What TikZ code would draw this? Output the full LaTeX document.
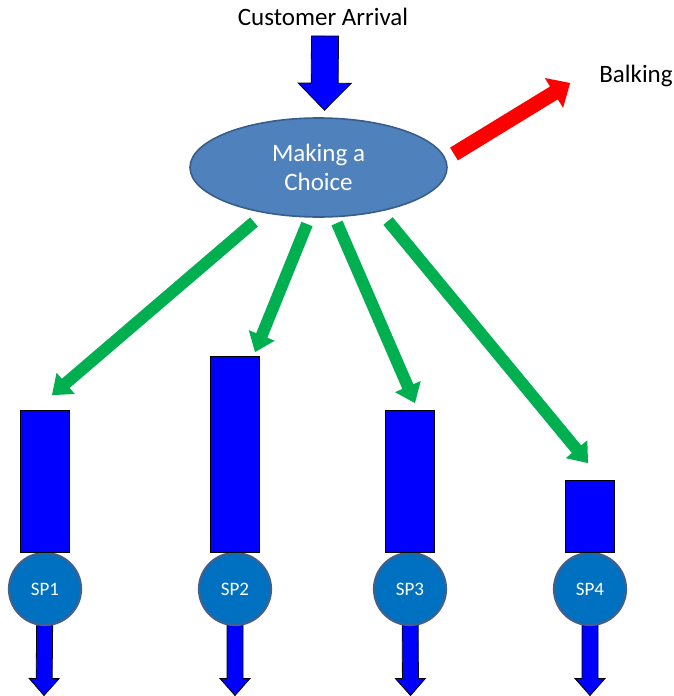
\documentclass[tikz,border=0pt]{standalone}
\usepackage{fontspec}
\setmainfont{Carlito}
\usetikzlibrary{shapes.geometric,positioning,calc,backgrounds}
\definecolor{arrblue}{RGB}{0,0,255}
\definecolor{choicefill}{RGB}{79,129,189}
\definecolor{choiceline}{RGB}{56,93,138}
\definecolor{spfill}{RGB}{0,112,192}
\definecolor{spline}{RGB}{65,96,139}
\definecolor{pathgreen}{RGB}{0,176,80}

% block arrow: style, from, to, half shaft, half head, head length
\newcommand{\blockarrow}[6]{%
  \coordinate (hb) at ($(#3)!#6!(#2)$);
  \path[#1] ($(#2)!#4!90:(#3)$) -- ($(hb)!#4!-90:(#2)$) -- ($(hb)!#5!-90:(#2)$) -- (#3)
    -- ($(hb)!#5!90:(#2)$) -- ($(hb)!#4!90:(#2)$) -- ($(#2)!#4!-90:(#3)$) -- cycle;
}

\begin{document}
\begin{tikzpicture}[
  x=1pt,y=-1pt,
  bigtext/.style={font=\fontsize{25}{29}\selectfont,align=center,inner sep=0pt},
  choicebox/.style={ellipse,draw=choiceline,fill=choicefill,line width=1.6pt,minimum width=257pt,minimum height=99pt,inner sep=0pt,text=white,bigtext},
  server/.style={circle,draw=spline,fill=spfill,line width=2.2pt,minimum size=72pt,inner sep=0pt,text=white,font=\fontsize{19}{22}\selectfont},
  queue/.style={draw=black,fill=arrblue,line width=0.8pt,minimum width=49pt,inner sep=0pt},
  bluearr/.style={draw=black,fill=arrblue,line width=0.8pt},
  greenarr/.style={fill=pathgreen},
  redarr/.style={fill=red},
]
\useasboundingbox (0,0) rectangle (674,696);

\node[bigtext] (arrival) at (323,17) {Customer Arrival};
\node[choicebox] (choice) at (318.5,167.5) {Making a\\Choice};
\node[bigtext] (balk) at (636,76) {Balking};

\node[server] (sp1) at (45,589) {SP1};
\node[server] (sp2) at (235,589) {SP2};
\node[server] (sp3) at (410,589) {SP3};
\node[server] (sp4) at (590,589) {SP4};

\node[queue,minimum height=142pt,above=-1pt of sp1] (q1) {};
\node[queue,minimum height=196pt,above=-1pt of sp2] (q2) {};
\node[queue,minimum height=142pt,above=-1pt of sp3] (q3) {};
\node[queue,minimum height=72pt,above=-1pt of sp4] (q4) {};

% arrow ends
\coordinate (intop) at (325,36);
\coordinate (intip) at ($(choice.north)+(6,-7)$);
\coordinate (balkfrom) at (454,154);
\coordinate (balktip) at ($(balk.west)+(-29,7)$);
\coordinate (g1from) at (254,222);
\coordinate (g2from) at (307,224);
\coordinate (g3from) at (337,223);
\coordinate (g4from) at (388,221);
\coordinate (g1tip) at ($(q1.north)+(7,-15)$);
\coordinate (g2tip) at ($(q2.north)+(20,-4)$);
\coordinate (g3tip) at ($(q3.north)+(5,-7)$);
\coordinate (g4tip) at ($(q4.north)+(-2,-17)$);
\foreach \i/\x in {1/44,2/235,3/410.5,4/590}
  \coordinate (out\i) at (\x,695.5);

\blockarrow{bluearr}{intop}{intip}{13.5pt}{26.5pt}{27pt}
\blockarrow{redarr}{balkfrom}{balktip}{7.5pt}{17.5pt}{19pt}
\foreach \i in {1,...,4}{
  \blockarrow{greenarr}{g\i from}{g\i tip}{6pt}{14pt}{18pt}
}

\begin{scope}[on background layer]
\foreach \i in {1,...,4}{
  \blockarrow{bluearr}{sp\i.center}{out\i}{8pt}{15pt}{17pt}
}
\end{scope}

\end{tikzpicture}
\end{document}
